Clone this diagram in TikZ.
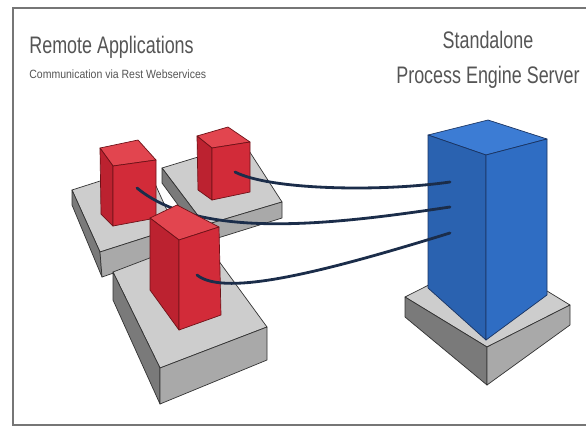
\documentclass[tikz,border=0pt]{standalone}
\usepackage{fontspec}
\newfontfamily\headfont[FakeStretch=0.75]{Liberation Sans}
\newfontfamily\smallfont[FakeStretch=0.88]{Liberation Sans}

\definecolor{frameC}{HTML}{767676}
\definecolor{textC}{HTML}{555555}
\definecolor{cableC}{HTML}{1B2D4A}
\definecolor{redTop}{HTML}{E2454F}
\definecolor{redLeft}{HTML}{BC2230}
\definecolor{redRight}{HTML}{D22B39}
\definecolor{redEdge}{HTML}{6E1218}
\definecolor{blueTop}{HTML}{3C7CD4}
\definecolor{blueLeft}{HTML}{2A62B0}
\definecolor{blueRight}{HTML}{2F6DC3}
\definecolor{blueEdge}{HTML}{1A3462}
\definecolor{greyTop}{HTML}{CDCDCD}
\definecolor{greyLeft}{HTML}{7A7A7A}
\definecolor{greyRight}{HTML}{A9A9A9}
\definecolor{greyEdge}{HTML}{333333}

\tikzset{
  slab/.style={draw=greyEdge, line width=0.4pt, line join=round},
  box/.style={draw=redEdge, line width=0.4pt, line join=round},
  tower/.style={draw=blueEdge, line width=0.4pt, line join=round},
  cable/.style={draw=cableC, line width=1.6pt, line cap=round},
  title/.style={font=\headfont\fontsize{13.6}{15}\selectfont, text=textC, inner sep=0pt},
}

\begin{document}
\begin{tikzpicture}[x=0.02cm, y=-0.02cm]
\useasboundingbox (0,0) rectangle (586,427);
\fill[white] (0,0) rectangle (586,427);

% frame, open on the right
\draw[frameC, line width=1.4pt] (586,8) -- (13,8) -- (13,425) -- (586,425);

% labels
\node[title, anchor=base west] (remote) at (29,53) {Remote Applications};
\node[font=\smallfont\fontsize{6.8}{8}\selectfont, text=textC, inner sep=0pt,
  anchor=base west] (remotesub) at (29,78) {Communication via Rest Webservices};
\node[title, anchor=base] (standalone) at (488,48) {Standalone};
\node[title, anchor=base] (engine) at (488,83) {Process Engine Server};

% server base
\coordinate (P1) at (405,297);
\coordinate (P2) at (488,255);
\coordinate (P3) at (570,305);
\coordinate (P4) at (487,347);
\coordinate (P5) at (487,385);
\coordinate (P6) at (405,317);
\coordinate (P7) at (570,325);
\filldraw[slab, fill=greyTop] (P1) -- (P2) -- (P3) -- (P4) -- cycle;
\filldraw[slab, fill=greyLeft] (P1) -- (P4) -- (P5) -- (P6) -- cycle;
\filldraw[slab, fill=greyRight] (P4) -- (P3) -- (P7) -- (P5) -- cycle;

% server tower
\coordinate (T1) at (428,135);
\coordinate (T2) at (488,120);
\coordinate (T3) at (547,139);
\coordinate (T4) at (486,155);
\coordinate (T5) at (486,340);
\coordinate (T6) at (428,288);
\coordinate (T7) at (547,295);
\filldraw[tower, fill=blueTop] (T1) -- (T2) -- (T3) -- (T4) -- cycle;
\filldraw[tower, fill=blueLeft] (T1) -- (T4) -- (T5) -- (T6) -- cycle;
\filldraw[tower, fill=blueRight] (T4) -- (T3) -- (T7) -- (T5) -- cycle;

% cable ends on the server
\coordinate (srvA) at (450,182);
\coordinate (srvB) at (450,207);
\coordinate (srvC) at (450,233);

% back left slab
\filldraw[slab, fill=greyTop] (72,190) -- (147,166) -- (175,228) -- (100,252) -- cycle;
\filldraw[slab, fill=greyLeft] (72,190) -- (100,252) -- (102,277) -- (72,205) -- cycle;
\filldraw[slab, fill=greyRight] (100,252) -- (175,228) -- (175,252) -- (102,277) -- cycle;

% back right slab
\filldraw[slab, fill=greyTop] (162,168) -- (244,143) -- (282,202) -- (205,225) -- cycle;
\filldraw[slab, fill=greyLeft] (162,168) -- (205,225) -- (205,242) -- (162,183) -- cycle;
\filldraw[slab, fill=greyRight] (205,225) -- (282,202) -- (282,218) -- (205,242) -- cycle;

% app A
\filldraw[box, fill=redTop] (100,148) -- (138,140) -- (156,160) -- (113,166) -- cycle;
\filldraw[box, fill=redLeft] (100,148) -- (113,166) -- (113,226) -- (101,214) -- cycle;
\filldraw[box, fill=redRight] (113,166) -- (156,160) -- (156,218) -- (113,226) -- cycle;
\coordinate (appA) at (137,188);

% app B
\filldraw[box, fill=redTop] (197,136) -- (228,127) -- (250,142) -- (212,148) -- cycle;
\filldraw[box, fill=redLeft] (197,136) -- (212,148) -- (212,200) -- (198,190) -- cycle;
\filldraw[box, fill=redRight] (212,148) -- (250,142) -- (250,192) -- (212,200) -- cycle;
\coordinate (appB) at (235,172);

\draw[cable] (appB) .. controls (270,190) and (380,192) .. (srvA);
\draw[cable] (appA) .. controls (200,240) and (330,225) .. (srvB);

% front slab
\filldraw[slab, fill=greyTop] (113,272) -- (202,238) -- (267,327) -- (160,368) -- cycle;
\filldraw[slab, fill=greyLeft] (113,272) -- (160,368) -- (160,404) -- (113,300) -- cycle;
\filldraw[slab, fill=greyRight] (160,368) -- (267,327) -- (267,360) -- (160,404) -- cycle;

% app C
\filldraw[box, fill=redTop] (150,218) -- (177,205) -- (219,227) -- (179,240) -- cycle;
\filldraw[box, fill=redLeft] (150,218) -- (179,240) -- (179,330) -- (150,290) -- cycle;
\filldraw[box, fill=redRight] (179,240) -- (219,227) -- (221,315) -- (179,330) -- cycle;
\coordinate (appC) at (197,275);

\draw[cable] (appC) .. controls (225,298) and (330,270) .. (srvC);
\end{tikzpicture}
\end{document}
